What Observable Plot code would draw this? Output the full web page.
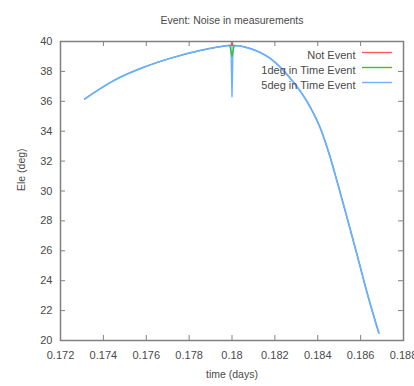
<!DOCTYPE html>
<html>
<head>
<meta charset="utf-8">
<script src="https://cdn.jsdelivr.net/npm/d3@7"></script>
<script src="https://cdn.jsdelivr.net/npm/@observablehq/plot@0.6"></script>
<style>
  html, body { margin: 0; padding: 0; background: #fff; }
  svg { overflow: visible; }
</style>
</head>
<body>
<div id="chart"></div>
<script>
// Title / labels
const title = "Event: Noise in measurements";
const xLabel = "time (days)";
const yLabel = "Ele (deg)";
const seriesNames = ["Not Event", "1deg in Time Event", "5deg in Time Event"];
const seriesColors = ["#ff5a5a", "#3cbf3c", "#6ab0ff"];

// Base elevation curve (shared by all series)
const baseTime = [0.17313, 0.17449, 0.17589, 0.17713, 0.17853, 0.17931, 0.1800, 0.18086, 0.18179, 0.18273, 0.18351, 0.18413, 0.18455, 0.18491, 0.18537, 0.18584, 0.1863, 0.18685];
const baseEle  = [36.16, 37.39, 38.28, 38.88, 39.40, 39.62, 39.74, 39.53, 38.86, 37.52, 35.96, 34.17, 32.4, 30.6, 28.2, 25.7, 23.2, 20.5];

// Event spikes at t = 0.18
const notEventTime = [0.17997, 0.18, 0.18003];
const notEventEle  = [39.74, 40.4, 39.74];
const oneDegTime   = [0.1799, 0.18, 0.1801];
const oneDegEle    = [39.73, 39.0, 39.73];
const fiveDegTime  = [0.17995, 0.18, 0.18005];
const fiveDegEle   = [39.73, 36.3, 39.73];

// Ticks
const xTicks = [0.172, 0.174, 0.176, 0.178, 0.18, 0.182, 0.184, 0.186, 0.188];
const xTickLabels = ["0.172", "0.174", "0.176", "0.178", "0.18", "0.182", "0.184", "0.186", "0.188"];
const yTicks = [20, 22, 24, 26, 28, 30, 32, 34, 36, 38, 40];
const yTickLabels = ["20", "22", "24", "26", "28", "30", "32", "34", "36", "38", "40"];

const base = baseTime.map((t, i) => ({t, e: baseEle[i]}));
const spikes = [
  notEventTime.map((t, i) => ({t, e: notEventEle[i]})),
  oneDegTime.map((t, i) => ({t, e: oneDegEle[i]})),
  fiveDegTime.map((t, i) => ({t, e: fiveDegEle[i]}))
];

const W = 414, H = 386;
const mL = 60, mR = 11, mT = 41, mB = 46;
const plotW = W - mL - mR, plotH = H - mT - mB;
const tickLen = 5;
const gray = "#808080";
const textCol = "#4a4a4a";
const font = "Liberation Sans, Arial, sans-serif";

const marks = [];
// series base lines (drawn red, green, blue so blue lies on top)
seriesNames.forEach((name, i) => {
  marks.push(Plot.line(base, {x: "t", y: "e", stroke: seriesColors[i], strokeWidth: i === 2 ? 1.8 : 1.0, curve: "monotone-x", clip: true}));
});
// spikes: blue first, then green, then red on top
[2, 1, 0].forEach(i => {
  marks.push(Plot.line(spikes[i], {x: "t", y: "e", stroke: seriesColors[i], strokeWidth: 1.4, clip: true}));
});
// inward ticks on all four sides
marks.push(Plot.ruleX(xTicks, {stroke: gray, strokeWidth: 1, insetTop: plotH - tickLen}));
marks.push(Plot.ruleX(xTicks, {stroke: gray, strokeWidth: 1, insetBottom: plotH - tickLen}));
marks.push(Plot.ruleY(yTicks, {stroke: gray, strokeWidth: 1, insetRight: plotW - tickLen}));
marks.push(Plot.ruleY(yTicks, {stroke: gray, strokeWidth: 1, insetLeft: plotW - tickLen}));
// frame
marks.push(Plot.frame({stroke: gray, strokeWidth: 1.5}));
// tick labels
marks.push(Plot.text(xTicks, {x: d => d, frameAnchor: "bottom", dy: 15, text: (d, i) => xTickLabels[i], fill: textCol, fontSize: 11, lineAnchor: "middle"}));
marks.push(Plot.text(yTicks, {y: d => d, frameAnchor: "left", dx: -8, text: (d, i) => yTickLabels[i], fill: textCol, fontSize: 11, textAnchor: "end"}));
// axis labels and title
marks.push(Plot.text([xLabel], {frameAnchor: "bottom", dy: 37, fill: textCol, fontSize: 10.5}));
marks.push(Plot.text([yLabel], {frameAnchor: "left", dx: -39, rotate: -90, fill: textCol, fontSize: 10.5}));
marks.push(Plot.text([title], {frameAnchor: "top", dy: -25, fill: textCol, fontSize: 10.5}));
// legend
seriesNames.forEach((name, i) => {
  marks.push(Plot.text([name], {frameAnchor: "top-right", dx: -48, dy: 10 + 15 * i, textAnchor: "end", fill: textCol, fontSize: 11}));
  marks.push(Plot.ruleY([yTicks[yTicks.length - 1]], {stroke: seriesColors[i], strokeWidth: 1.4, insetLeft: plotW - 41, insetRight: 11, dy: 11 + 15 * i}));
});

const chart = Plot.plot({
  width: W,
  height: H,
  marginLeft: mL,
  marginRight: mR,
  marginTop: mT,
  marginBottom: mB,
  style: {fontFamily: font, background: "#fff", overflow: "visible"},
  x: {domain: [0.172, 0.188], axis: null},
  y: {domain: [20, 40], axis: null},
  marks
});
document.getElementById("chart").appendChild(chart);
</script>
</body>
</html>
